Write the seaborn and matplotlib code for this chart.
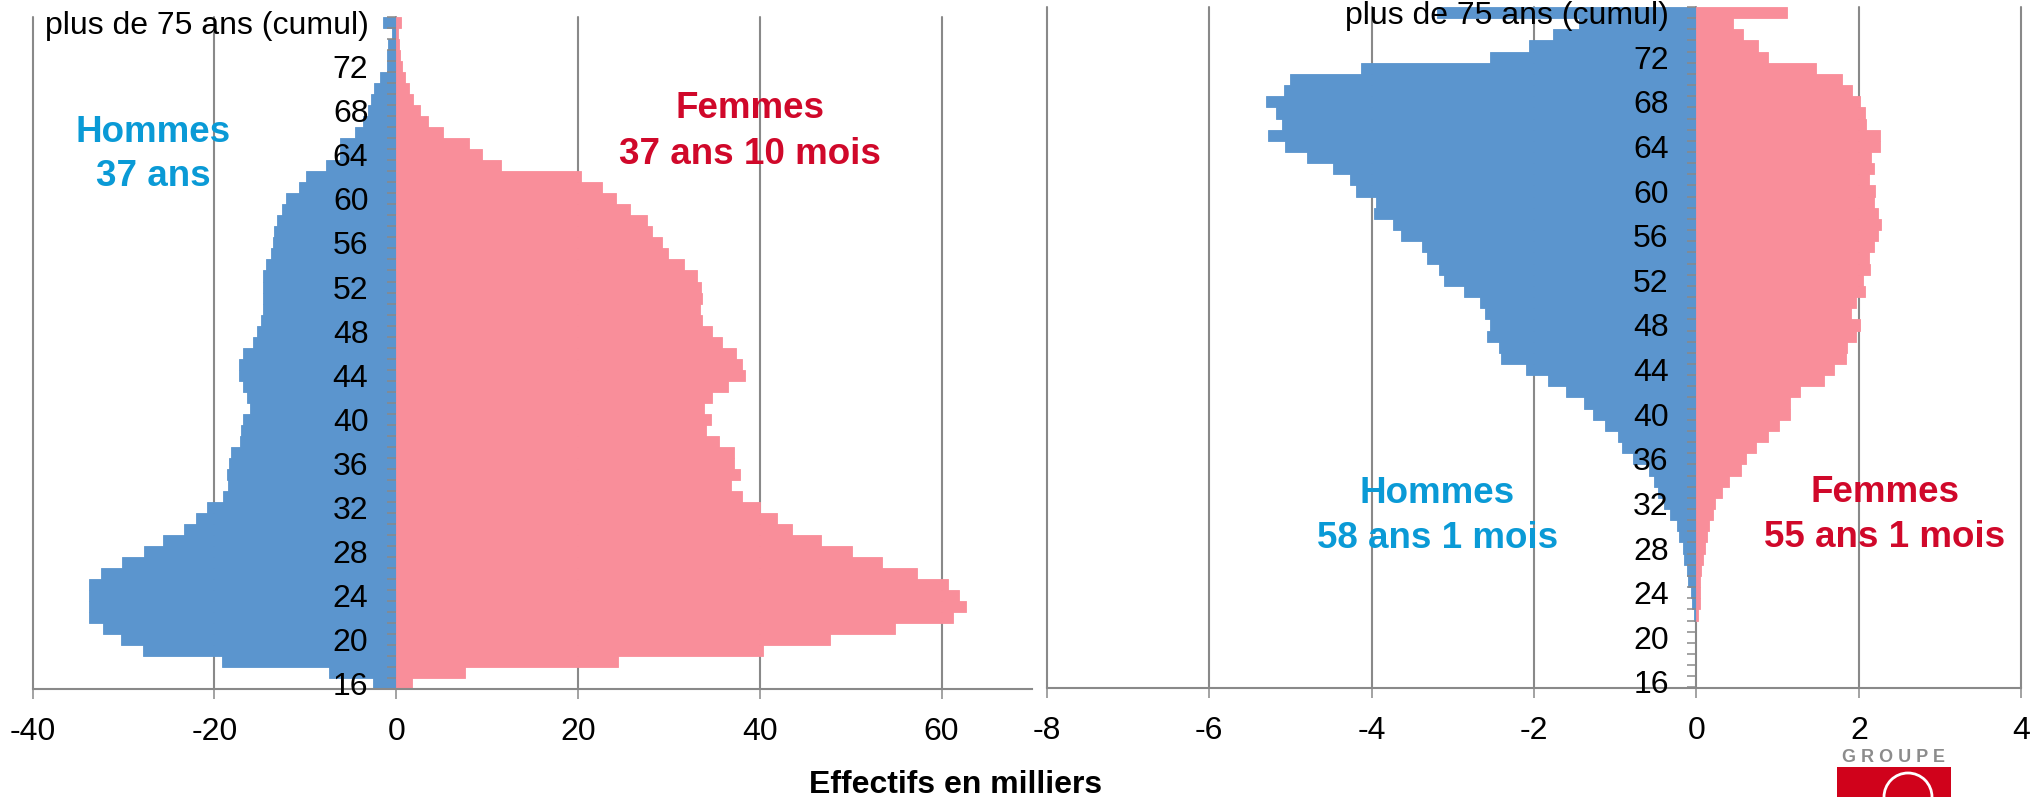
import numpy as np
import pandas as pd
import matplotlib
matplotlib.use("Agg")
import matplotlib.pyplot as plt
from matplotlib.patches import Rectangle, Circle
import seaborn as sns

# ---------------- data ----------------
ages = [str(a) for a in range(16, 76)] + ["plus de 75 ans (cumul)"]

# left pyramid (effectifs en milliers), ages 16..75 then "plus de 75"
hommes_gauche = [2.55, 7.4, 19.2, 27.9, 30.3, 32.3, 33.8, 33.8, 33.8, 33.8,
                 32.5, 30.2, 27.7, 25.6, 23.3, 22.0, 20.8, 19.05, 18.5, 18.6,
                 18.4, 18.2, 17.2, 17.1, 16.8, 16.1, 16.4, 16.9, 17.3, 17.3,
                 16.8, 15.8, 15.3, 14.9, 14.6, 14.6, 14.6, 14.6, 14.3, 13.8,
                 13.6, 13.4, 13.1, 12.6, 12.1, 10.7, 9.95, 7.76, 6.2, 6.2,
                 4.55, 3.6, 3.1, 2.8, 2.4, 1.8, 1.0, 1.0, 0.9, 0.44,
                 1.46]
femmes_gauche = [1.73, 7.58, 24.4, 40.4, 47.7, 54.9, 61.3, 62.7, 61.9, 60.7,
                 57.3, 53.5, 50.2, 46.7, 43.6, 41.9, 40.0, 38.0, 36.8, 37.8,
                 37.2, 37.2, 35.5, 34.1, 34.6, 33.9, 34.7, 36.5, 38.4, 38.1,
                 37.4, 35.8, 34.8, 33.6, 33.4, 33.6, 33.5, 33.1, 31.7, 29.9,
                 29.3, 28.2, 27.6, 25.7, 24.2, 22.6, 20.3, 11.5, 9.4, 8.0,
                 5.2, 3.5, 2.6, 1.9, 1.4, 1.0, 0.6, 0.4, 0.35, 0.25,
                 0.5]

# right pyramid
hommes_droite = [0, 0, 0, 0, 0, 0, 0.03, 0.05, 0.07, 0.10,
                 0.12, 0.15, 0.17, 0.22, 0.24, 0.32, 0.40, 0.47, 0.52, 0.59,
                 0.78, 0.92, 0.96, 1.13, 1.27, 1.38, 1.61, 1.83, 2.10, 2.41,
                 2.43, 2.58, 2.54, 2.60, 2.66, 2.86, 3.11, 3.17, 3.32, 3.38,
                 3.64, 3.73, 3.97, 3.94, 4.19, 4.27, 4.48, 4.80, 5.07, 5.28,
                 5.10, 5.18, 5.30, 5.08, 5.00, 4.13, 2.54, 2.06, 1.77, 1.44,
                 3.20]
femmes_droite = [0, 0, 0, 0, 0, 0, 0.02, 0.04, 0.05, 0.05,
                 0.06, 0.08, 0.10, 0.13, 0.16, 0.20, 0.23, 0.32, 0.40, 0.55,
                 0.61, 0.73, 0.88, 1.02, 1.15, 1.15, 1.27, 1.57, 1.69, 1.84,
                 1.85, 1.96, 2.01, 1.90, 1.97, 2.08, 2.05, 2.14, 2.13, 2.19,
                 2.24, 2.27, 2.23, 2.19, 2.20, 2.12, 2.19, 2.15, 2.26, 2.26,
                 2.09, 2.08, 2.01, 1.92, 1.79, 1.47, 0.88, 0.76, 0.57, 0.45,
                 1.12]

xticks_gauche = [-40, -20, 0, 20, 40, 60]
xlim_gauche = (-40, 70)
xticks_droite = [-8, -6, -4, -2, 0, 2, 4]
xlim_droite = (-8, 4)

# ---------------- style ----------------
BLUE = "#5B95CE"
PINK = "#F98E9A"
GRID = "#898989"
C_HOM = "#0A9AD6"
C_FEM = "#D0082A"

sns.set_style("white")
plt.rcParams["font.family"] = ["Liberation Sans", "DejaVu Sans"]
plt.rcParams["axes.unicode_minus"] = False

W, H = 2032, 797
fig = plt.figure(figsize=(W / 100, H / 100), dpi=100)


def rect_px(x0, y_top, x1, y_bot):
    return [x0 / W, 1 - y_bot / H, (x1 - x0) / W, (y_bot - y_top) / H]


def panel(rect, hommes, femmes, xticks, xlim):
    ax = fig.add_axes(rect)
    n = len(ages)
    df = pd.DataFrame({
        "age": ages * 2,
        "valeur": [-v for v in hommes] + list(femmes),
        "sexe": ["Hommes"] * n + ["Femmes"] * n,
    })
    order = ages[::-1]
    sns.barplot(data=df, x="valeur", y="age", hue="sexe", order=order,
                hue_order=["Hommes", "Femmes"],
                palette={"Hommes": BLUE, "Femmes": PINK},
                orient="y", dodge=False, width=1.0, errorbar=None,
                saturation=1, legend=False, ax=ax)
    for p in ax.patches:
        if abs(p.get_width()) > 0:
            p.set_edgecolor(p.get_facecolor())
            p.set_linewidth(0.6)
        else:
            p.set_linewidth(0)
        p.set_zorder(1)

    ax.set_xlim(xlim)
    ax.set_ylim(n - 0.5, -0.5)
    for t in xticks:
        ax.axvline(t, color=GRID, lw=1.5, zorder=0, clip_on=False)

    ax.set_xticks(xticks)
    ax.set_xticklabels([str(t) for t in xticks])
    ax.set_yticks(range(n))
    ax.set_yticklabels([lab if i % 4 == 0 else "" for i, lab in enumerate(order)])
    ax.set_yticks(np.arange(-0.5, n, 1), minor=True)

    ax.spines["left"].set_position(("data", 0))
    for s in ["left", "top", "right"]:
        ax.spines[s].set_visible(False)
    ax.spines["bottom"].set_color(GRID)
    ax.spines["bottom"].set_linewidth(1.5)

    ax.tick_params(axis="y", which="both", left=True, right=False)
    ax.tick_params(axis="x", which="both", bottom=True, top=False)
    ax.tick_params(axis="y", which="major", length=0, pad=20, labelsize=23,
                   labelcolor="black")
    ax.tick_params(axis="y", which="minor", length=6.8, width=1.1,
                   color=GRID, direction="out")
    ax.tick_params(axis="x", which="major", length=7.2, width=1.1,
                   color=GRID, direction="out", pad=13, labelsize=23,
                   labelcolor="black")
    ax.set_xlabel("")
    ax.set_ylabel("")
    ax.set_axisbelow(False)
    ax.set_facecolor("none")
    return ax


ax1 = panel(rect_px(32.6, 17, 1032.4, 689.3), hommes_gauche, femmes_gauche,
            xticks_gauche, xlim_gauche)
ax2 = panel(rect_px(1046.7, 7, 2021.3, 687.5), hommes_droite, femmes_droite,
            xticks_droite, xlim_droite)


def ftext(x, y_base, s, color, size, weight="bold"):
    fig.text(x / W, 1 - y_base / H, s, color=color, fontsize=size,
             fontweight=weight, ha="center", va="baseline")


# annotations
ftext(153, 141.5, "Hommes", C_HOM, 26.5)
ftext(153, 185.5, "37 ans", C_HOM, 26.5)
ftext(750, 118.5, "Femmes", C_FEM, 26.5)
ftext(750, 163.5, "37 ans 10 mois", C_FEM, 26.5)
ftext(1437.5, 503, "Hommes", C_HOM, 26.5)
ftext(1437.5, 548, "58 ans 1 mois", C_HOM, 26.5)
ftext(1885, 502, "Femmes", C_FEM, 26.5)
ftext(1885, 547, "55 ans 1 mois", C_FEM, 26.5)

ftext(956, 793, "Effectifs en milliers", "black", 23)

# logo (bottom right)
fig.text(1894 / W, 1 - 762 / H, "G R O U P E", color="#8C8C8C", fontsize=13,
         fontweight="bold", ha="center", va="baseline")
logo = Rectangle((1837 / W, 0), (1951 - 1837) / W, (797 - 767) / H,
                 transform=fig.transFigure, facecolor="#D0021B",
                 edgecolor="none")
fig.add_artist(logo)
ring = Circle((19.08, 0.0), 0.24, transform=fig.dpi_scale_trans,
              facecolor="none", edgecolor="white", lw=2)
fig.add_artist(ring)
ring.set_clip_path(logo)

fig.savefig("out.png", dpi=100)
